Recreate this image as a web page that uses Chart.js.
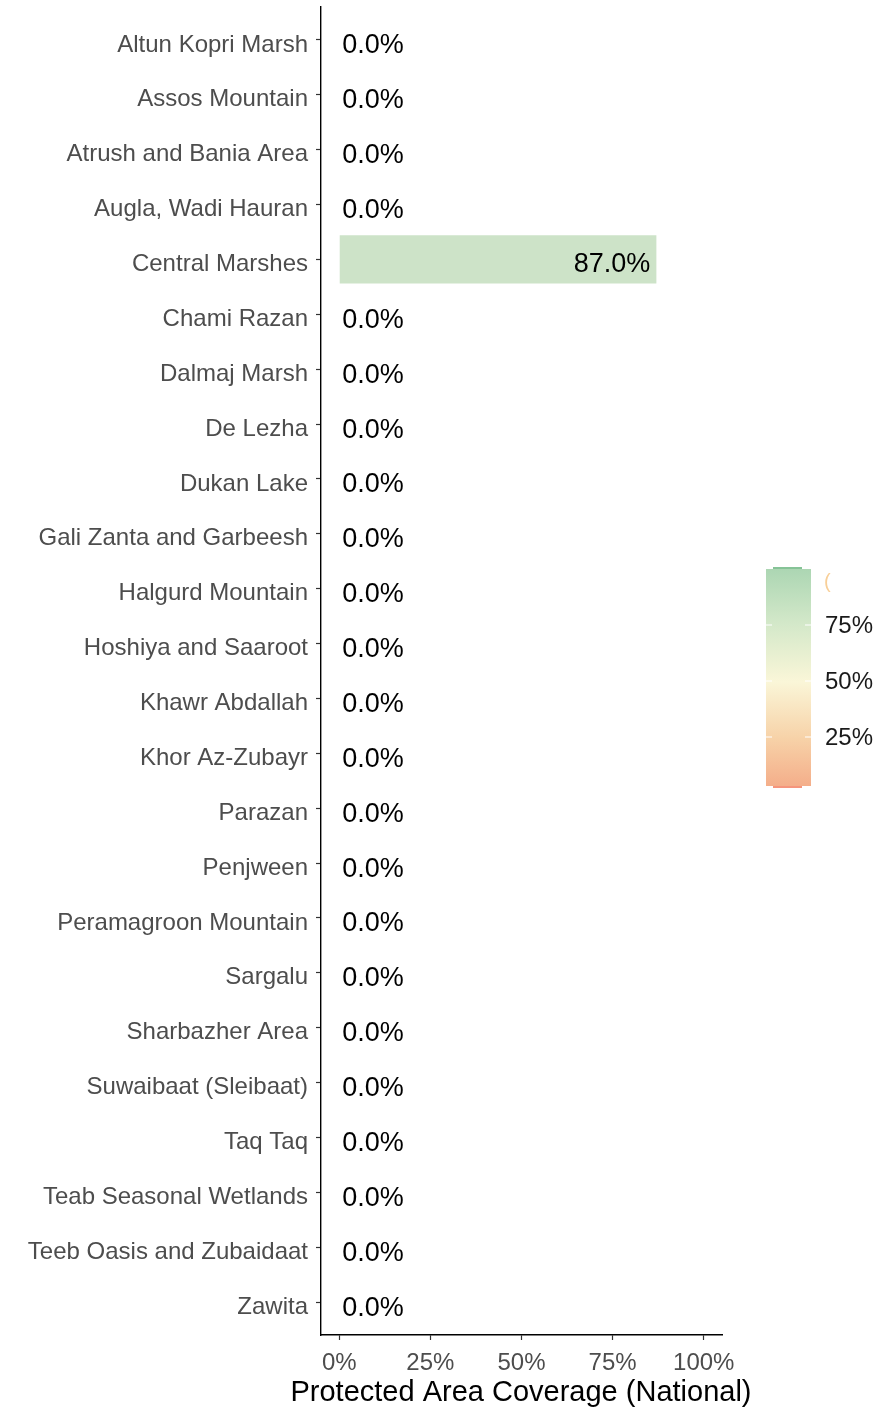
<!DOCTYPE html>
<html>
<head>
<meta charset="utf-8">
<script src="https://cdn.jsdelivr.net/npm/chart.js@4"></script>
<style>
  html, body { margin: 0; padding: 0; background: #fff; }
  #wrap { width: 879px; height: 1410px; position: relative; }
</style>
</head>
<body>
<div id="wrap"><canvas id="myChart"></canvas></div>
<script>
const categories = [
    'Altun Kopri Marsh', 'Assos Mountain', 'Atrush and Bania Area', 'Augla, Wadi Hauran',
    'Central Marshes', 'Chami Razan', 'Dalmaj Marsh', 'De Lezha', 'Dukan Lake',
    'Gali Zanta and Garbeesh', 'Halgurd Mountain', 'Hoshiya and Saaroot', 'Khawr Abdallah',
    'Khor Az-Zubayr', 'Parazan', 'Penjween', 'Peramagroon Mountain', 'Sargalu',
    'Sharbazher Area', 'Suwaibaat (Sleibaat)', 'Taq Taq', 'Teab Seasonal Wetlands',
    'Teeb Oasis and Zubaidaat', 'Zawita'
];
const coverage = [0, 0, 0, 0, 87, 0, 0, 0, 0, 0, 0, 0, 0, 0, 0, 0, 0, 0, 0, 0, 0, 0, 0, 0];
const xTicks = [0, 25, 50, 75, 100];
const legendTicks = [25, 50, 75];
const xTitle = 'Protected Area Coverage (National)';

const FONT = '"Liberation Sans", Arial, sans-serif';

// colour for a coverage value, same scale as the legend bar
function fillFor(v) {
    if (v >= 80) return '#cde3c8';
    if (v >= 50) return '#eaf0d2';
    return '#f6c8a2';
}

// value labels on the bars + axis title (drawn by hand so it isn't squeezed)
const barLabels = {
    id: 'barLabels',
    afterDatasetsDraw(chart) {
        const ctx = chart.ctx;
        const xs = chart.scales.x;
        const meta = chart.getDatasetMeta(0);
        ctx.save();
        ctx.font = '27px ' + FONT;
        ctx.fillStyle = '#000';
        ctx.textBaseline = 'middle';
        meta.data.forEach((bar, i) => {
            const v = coverage[i];
            const txt = v.toFixed(1) + '%';
            if (v > 20) {
                ctx.textAlign = 'right';
                ctx.fillText(txt, bar.x - 6, bar.y + 5);
            } else {
                ctx.textAlign = 'left';
                ctx.fillText(txt, xs.getPixelForValue(0) + 3, bar.y + 6);
            }
        });
        ctx.font = '29px ' + FONT;
        ctx.textAlign = 'center';
        ctx.fillText(xTitle, 521, 1393);
        ctx.restore();
    }
};

// gradient colour bar legend on the right
const colourBar = {
    id: 'colourBar',
    afterDraw(chart) {
        const ctx = chart.ctx;
        const left = 766, right = 811, top = 569, bottom = 786;
        const yFor = v => 681 - (v - 50) * 2.24;
        ctx.save();
        const g = ctx.createLinearGradient(0, top, 0, bottom);
        g.addColorStop(0, '#acd6b3');
        g.addColorStop(0.25, '#d3e8c9');
        g.addColorStop(0.52, '#faf6d8');
        g.addColorStop(0.78, '#f7d2a8');
        g.addColorStop(1, '#f4ae8a');
        ctx.fillStyle = g;
        ctx.fillRect(left, top, right - left, bottom - top);
        // end caps
        ctx.fillStyle = '#86c397';
        ctx.fillRect(773, top - 2, 29, 2);
        ctx.fillStyle = '#f5957c';
        ctx.fillRect(773, bottom, 29, 2);
        // white ticks
        ctx.strokeStyle = '#ffffff';
        ctx.lineWidth = 1.2;
        legendTicks.forEach(t => {
            const y = yFor(t);
            ctx.beginPath();
            ctx.moveTo(left, y); ctx.lineTo(left + 6, y);
            ctx.moveTo(right - 6, y); ctx.lineTo(right, y);
            ctx.stroke();
        });
        ctx.font = '24px ' + FONT;
        ctx.fillStyle = '#1a1a1a';
        ctx.textAlign = 'left';
        ctx.textBaseline = 'middle';
        legendTicks.forEach(t => ctx.fillText(t + '%', 825, yFor(t) + 1));
        // clipped legend title glyph
        ctx.font = '20px ' + FONT;
        ctx.fillStyle = '#f8cf98';
        ctx.fillText('(', 824, 582);
        ctx.restore();
    }
};

const ctx = document.getElementById('myChart');
const chart = new Chart(ctx, {
    type: 'bar',
    data: {
        datasets: [{
            data: coverage.map((v, i) => ({ x: v, y: i })),
            backgroundColor: coverage.map(fillFor),
            borderWidth: 0,
            barPercentage: 0.88,
            categoryPercentage: 1
        }]
    },
    options: {
        indexAxis: 'y',
        responsive: true,
        maintainAspectRatio: false,
        animation: false,
        layout: { padding: { top: 7, right: 157, left: 0, bottom: 0 } },
        plugins: {
            legend: { display: false },
            tooltip: { enabled: false }
        },
        scales: {
            x: {
                type: 'linear',
                min: -5,
                max: 105,
                offset: false,
                afterBuildTicks: s => { s.ticks = xTicks.map(v => ({ value: v })); },
                afterFit: s => { s.height = 75; s.paddingLeft = 0; s.paddingRight = 0; },
                grid: { drawOnChartArea: false, offset: false, tickLength: 5, tickColor: '#333', tickWidth: 1.2 },
                border: { color: '#000', width: 1.4 },
                ticks: {
                    color: '#4d4d4d',
                    font: { family: FONT, size: 24 },
                    padding: 9,
                    callback: v => v + '%'
                }
            },
            y: {
                type: 'linear',
                reverse: true,
                min: -0.6,
                max: categories.length - 0.4,
                offset: false,
                afterBuildTicks: s => { s.ticks = categories.map((c, i) => ({ value: i })); },
                afterFit: s => { s.width = 321; s.paddingTop = 0; s.paddingBottom = 0; },
                grid: { drawOnChartArea: false, offset: false, tickLength: 5, tickColor: '#333', tickWidth: 1.2 },
                border: { color: '#000', width: 1.4 },
                ticks: {
                    autoSkip: false,
                    color: '#4d4d4d',
                    font: { family: FONT, size: 24 },
                    padding: 8,
                    labelOffset: 5,
                    callback: v => categories[v]
                }
            }
        }
    },
    plugins: [barLabels, colourBar]
});
</script>
</body>
</html>
